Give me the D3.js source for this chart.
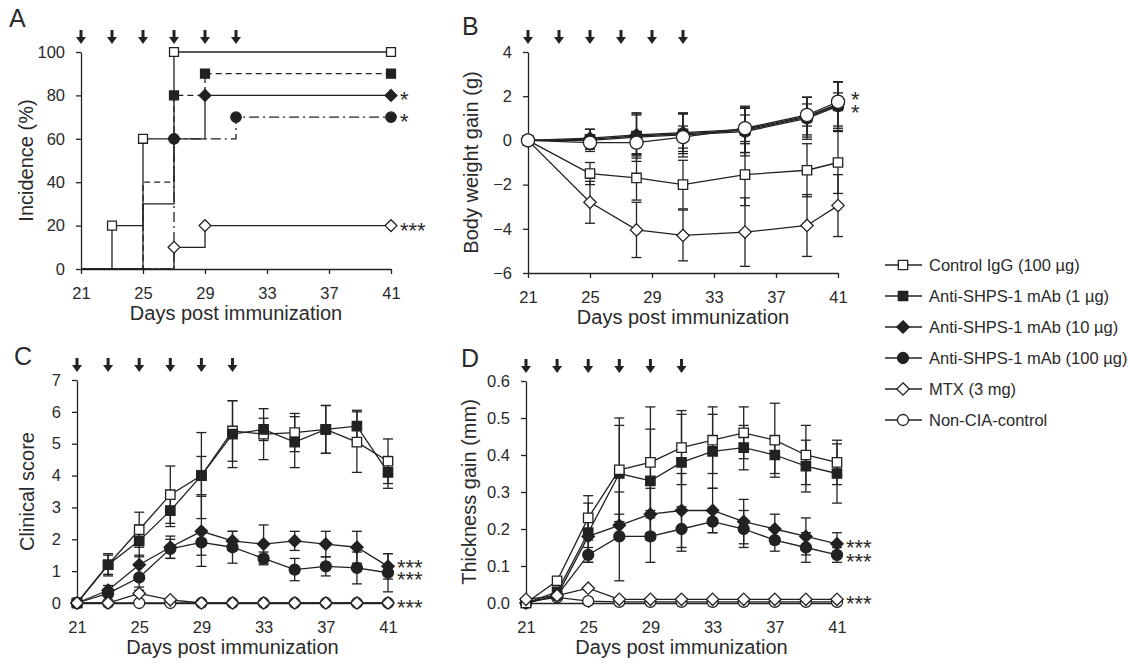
<!DOCTYPE html>
<html>
<head>
<meta charset="utf-8">
<script src="https://cdn.jsdelivr.net/npm/d3@7"></script>
<style>
body{margin:0;background:#fff;}
svg text{font-family:"Liberation Sans",Arial,sans-serif;fill:#2a2a2a;}
</style>
</head>
<body>
<script>
// groups, legend order
var groups=["Control IgG (100 µg)","Anti-SHPS-1 mAb (1 µg)","Anti-SHPS-1 mAb (10 µg)","Anti-SHPS-1 mAb (100 µg)","MTX (3 mg)","Non-CIA-control"];
var shapes=["square","square","diamond","circle","diamond","circle"];
var filled=[false,true,true,true,false,false];
var arrowDays=[21,23,25,27,29,31];
var dayTicks=[21,25,29,33,37,41];

// A: incidence (%), step curves
var aDays=[[21,23,25,27,41],[21,25,27,29,41],[21,25,27,29,41],[21,27,31,41],[21,27,29,41]];
var aVals=[[0,20,60,100,100],[0,40,80,90,90],[0,30,60,80,80],[0,60,70,70],[0,10,20,20]];
var aMark=[[0,1,1,1,1],[0,0,1,1,1],[0,0,1,1,1],[0,1,1,1],[0,1,1,1]];
var aDash=["none","6,4","none","10,4,2,4","none"];
var aStarVals=[80,70,20], aStarText=["*","*","***"];

// B: body weight gain (g)
var bDays=[21,25,28,31,35,39,41];
var bCtrl=[0,-1.5,-1.7,-2.0,-1.55,-1.35,-1.0],   bCtrlE=[0,0.5,1.0,1.1,1.4,1.2,1.4];
var b1=[0,0.05,0.2,0.3,0.45,1.05,1.6],           b1E=[0,0.45,1.0,0.9,1.0,0.9,1.05];
var b10=[0,0.1,0.25,0.35,0.5,1.1,1.65],          b10E=[0,0.4,0.9,0.85,1.05,0.85,1.0];
var b100=[0,0.0,0.15,0.25,0.4,1.0,1.55],         b100E=[0,0.5,1.1,1.0,1.1,0.95,1.1];
var bMtx=[0,-2.8,-4.05,-4.3,-4.15,-3.85,-2.95],  bMtxE=[0,0.95,1.25,1.15,1.55,1.4,1.4];
var bNon=[0,-0.1,-0.1,0.15,0.55,1.15,1.75],      bNonE=[0,0.3,0.5,0.5,0.6,0.5,0.4];
var bStarVals=[2.05,1.45], bStarText=["*","*"];

// C: clinical score
var cDays=[21,23,25,27,29,31,33,35,37,39,41];
var cCtrl=[0,1.2,2.3,3.4,4.0,5.4,5.3,5.35,5.45,5.05,4.45], cCtrlE=[0,0.35,0.55,0.9,1.35,0.95,0.8,0.6,0.75,0.95,0.7];
var c1=[0,1.2,1.95,2.9,4.0,5.3,5.45,5.05,5.45,5.55,4.1],   c1E=[0,0.3,0.5,0.5,0.6,1.05,0.35,0.8,0.75,0.5,0.5];
var c10=[0,0.4,1.2,1.75,2.25,1.95,1.85,1.95,1.85,1.75,1.15], c10E=[0,0.15,0.3,0.35,1.1,0.3,0.6,0.3,0.4,0.5,0.4];
var c100=[0,0.3,0.8,1.7,1.9,1.75,1.4,1.05,1.15,1.1,0.95],   c100E=[0,0.1,0.4,0.3,0.4,0.5,0.2,0.35,0.3,0.5,0.6];
var cMtx=[0,0,0.3,0.1,0,0,0,0,0,0,0],                       cMtxE=[0,0,0.2,0,0,0,0,0,0,0,0];
var cNon=[0,0,0,0,0,0,0,0,0,0,0],                           cNonE=[0,0,0,0,0,0,0,0,0,0,0];
var cStarVals=[1.26,0.88,0], cStarText=["***","***","***"];

// D: thickness gain (mm)
var dDays=[21,23,25,27,29,31,33,35,37,39,41];
var dCtrl=[0,0.06,0.23,0.36,0.38,0.42,0.44,0.46,0.44,0.40,0.38], dCtrlE=[0,0.01,0.06,0.14,0.15,0.1,0.09,0.07,0.1,0.08,0.06];
var d1=[0,0.03,0.19,0.35,0.33,0.38,0.41,0.42,0.40,0.37,0.35],    d1E=[0,0.01,0.08,0.13,0.14,0.13,0.1,0.06,0.05,0.07,0.08];
var d10=[0,0.02,0.18,0.21,0.24,0.25,0.25,0.22,0.2,0.18,0.16],    d10E=[0,0.01,0.05,0.03,0.07,0.1,0.06,0.06,0.04,0.05,0.03];
var d100=[0,0.02,0.13,0.18,0.18,0.2,0.22,0.2,0.17,0.15,0.13],    d100E=[0,0.01,0.02,0.12,0.07,0.06,0.03,0.05,0.03,0.04,0.02];
var dMtx=[0.01,0.02,0.04,0.01,0.01,0.01,0.01,0.01,0.01,0.01,0.01], dMtxE=[0,0,0,0,0,0,0,0,0,0,0];
var dNon=[0.003,0.015,0.005,0.003,0.003,0.003,0.003,0.003,0.003,0.003,0.003], dNonE=[0,0,0,0,0,0,0,0,0,0,0];
var dStarVals=[0.163,0.124,0.01], dStarText=["***","***","***"];

var ink="#222";
var svg=d3.select("body").append("svg").attr("width",1130).attr("height",664);

function markerPath(shape,s){
  if(shape=="square"){var h=4.7*s;return "M"+(-h)+","+(-h)+"h"+(2*h)+"v"+(2*h)+"h"+(-2*h)+"Z";}
  if(shape=="diamond"){var d=6.2*s;return "M0,"+(-d)+"L"+d+",0L0,"+d+"L"+(-d)+",0Z";}
  var p=d3.path();p.arc(0,0,5.5*s,0,2*Math.PI);p.closePath();return p.toString();
}
function marker(g,i,cx,cy,s){
  g.append("path").attr("d",markerPath(shapes[i],s)).attr("transform","translate("+cx+","+cy+")")
    .attr("fill",filled[i]?ink:"#fff").attr("stroke",ink).attr("stroke-width",1.3);
}

function panel(cfg){
  var x=d3.scaleLinear().domain([21,41]).range([cfg.x0,cfg.x1]);
  var y=d3.scaleLinear().domain(cfg.yDom).range([cfg.yBot,cfg.yTop]);
  var g=svg.append("g");
  var ax=g.append("g").attr("transform","translate(0,"+cfg.yBot+")")
    .call(d3.axisBottom(x).tickValues(dayTicks).tickSize(5).tickSizeOuter(0).tickPadding(13));
  var ay=g.append("g").attr("transform","translate("+cfg.x0+",0)")
    .call(d3.axisLeft(y).tickValues(cfg.yTicks).tickFormat(cfg.fmt).tickSize(5).tickSizeOuter(0).tickPadding(11));
  [ax,ay].forEach(function(a){
    a.attr("font-size",16.5);
    a.selectAll("path,line").attr("stroke",ink).attr("stroke-width",1.3);
    a.selectAll("text").attr("fill","#2a2a2a");
  });
  g.append("text").attr("x",(cfg.x0+cfg.x1)/2).attr("y",cfg.yBot+51).attr("text-anchor","middle")
    .attr("font-size",20).text("Days post immunization");
  g.append("text").attr("transform","translate("+(cfg.x0-cfg.ytOff)+","+((cfg.yTop+cfg.yBot)/2)+") rotate(-90)")
    .attr("text-anchor","middle").attr("font-size",20).text(cfg.yTitle);
  g.append("text").attr("x",cfg.lx).attr("y",cfg.ly).attr("font-size",25).text(cfg.letter);
  arrowDays.forEach(function(d){
    var cx=x(d),t=cfg.yTop-8;
    g.append("path").attr("fill",ink)
      .attr("d","M"+(cx-1.5)+","+(t-14)+"h3v7h3.5L"+cx+","+t+"L"+(cx-5)+","+(t-7)+"h3.5Z");
  });
  return {g:g,x:x,y:y};
}

// significance marks: one text block per panel, one row per tspan
function stars(p,vals,texts,off){
  var t=p.g.append("text").attr("font-size",22);
  vals.forEach(function(v,i){
    t.append("tspan").attr("x",p.x(41)+off).attr("y",p.y(v)+12).text(texts[i]);
  });
}

function errPanel(p,days,vals,errs,order,rs){
  var x=p.x,y=p.y,g=p.g;
  order.forEach(function(i){
    days.forEach(function(d,j){
      var e=errs[i][j];if(!e)return;
      var cx=x(d),y1=y(vals[i][j]+e),y2=y(vals[i][j]-e);
      g.append("line").attr("x1",cx).attr("x2",cx).attr("y1",y1).attr("y2",y2).attr("stroke",ink).attr("stroke-width",1.3);
      [y1,y2].forEach(function(yy){
        g.append("line").attr("x1",cx-5).attr("x2",cx+5).attr("y1",yy).attr("y2",yy).attr("stroke",ink).attr("stroke-width",1.3);
      });
    });
  });
  var line=d3.line().x(function(d){return x(d[0]);}).y(function(d){return y(d[1]);});
  order.forEach(function(i){
    g.append("path").attr("d",line(d3.zip(days,vals[i]))).attr("fill","none").attr("stroke",ink).attr("stroke-width",1.3);
  });
  order.forEach(function(i){
    days.forEach(function(d,j){marker(g,i,x(d),y(vals[i][j]),i==5?rs:1);});
  });
}

// Panel A
var pA=panel({x0:81,x1:391,yTop:52,yBot:269,yDom:[0,100],yTicks:[0,20,40,60,80,100],fmt:d3.format("d"),
  yTitle:"Incidence (%)",ytOff:48,letter:"A",lx:9,ly:27});
var step=d3.line().curve(d3.curveStepAfter).x(function(d){return pA.x(d[0]);}).y(function(d){return pA.y(d[1]);});
aVals.forEach(function(v,i){
  pA.g.append("path").attr("d",step(d3.zip(aDays[i],v))).attr("fill","none").attr("stroke",ink)
    .attr("stroke-width",1.3).attr("stroke-dasharray",aDash[i]);
});
aVals.forEach(function(v,i){
  v.forEach(function(val,j){ if(aMark[i][j]) marker(pA.g,i,pA.x(aDays[i][j]),pA.y(val),0.95); });
});
stars(pA,aStarVals,aStarText,9);

// Panel B
var pB=panel({x0:528,x1:838,yTop:52,yBot:273,yDom:[-6,4],yTicks:[-6,-4,-2,0,2,4],fmt:d3.format("d"),
  yTitle:"Body weight gain (g)",ytOff:50,letter:"B",lx:462,ly:35});
errPanel(pB,bDays,[bCtrl,b1,b10,b100,bMtx,bNon],[bCtrlE,b1E,b10E,b100E,bMtxE,bNonE],[0,4,1,2,3,5],1.2);
stars(pB,bStarVals,bStarText,13);

// Panel C
var pC=panel({x0:77,x1:388,yTop:380,yBot:603,yDom:[0,7],yTicks:[0,1,2,3,4,5,6,7],fmt:d3.format("d"),
  yTitle:"Clinical score",ytOff:43,letter:"C",lx:14,ly:365});
errPanel(pC,cDays,[cCtrl,c1,c10,c100,cMtx,cNon],[cCtrlE,c1E,c10E,c100E,cMtxE,cNonE],[5,0,1,2,3,4],1);
stars(pC,cStarVals,cStarText,9);

// Panel D
var pD=panel({x0:526,x1:837,yTop:381,yBot:603,yDom:[0,0.6],yTicks:[0,0.1,0.2,0.3,0.4,0.5,0.6],fmt:d3.format(".1f"),
  yTitle:"Thickness gain (mm)",ytOff:50,letter:"D",lx:461,ly:367});
errPanel(pD,dDays,[dCtrl,d1,d10,d100,dMtx,dNon],[dCtrlE,d1E,d10E,d100E,dMtxE,dNonE],[5,3,2,1,0,4],1);
stars(pD,dStarVals,dStarText,9);

// legend
var lg=svg.append("g");
groups.forEach(function(name,i){
  var yy=265+i*31;
  lg.append("line").attr("x1",885).attr("x2",922).attr("y1",yy).attr("y2",yy).attr("stroke",ink).attr("stroke-width",1.3);
  marker(lg,i,903,yy,1);
  lg.append("text").attr("x",929).attr("y",yy).attr("dy","0.35em").attr("font-size",16.5).text(name);
});
</script>
</body>
</html>
